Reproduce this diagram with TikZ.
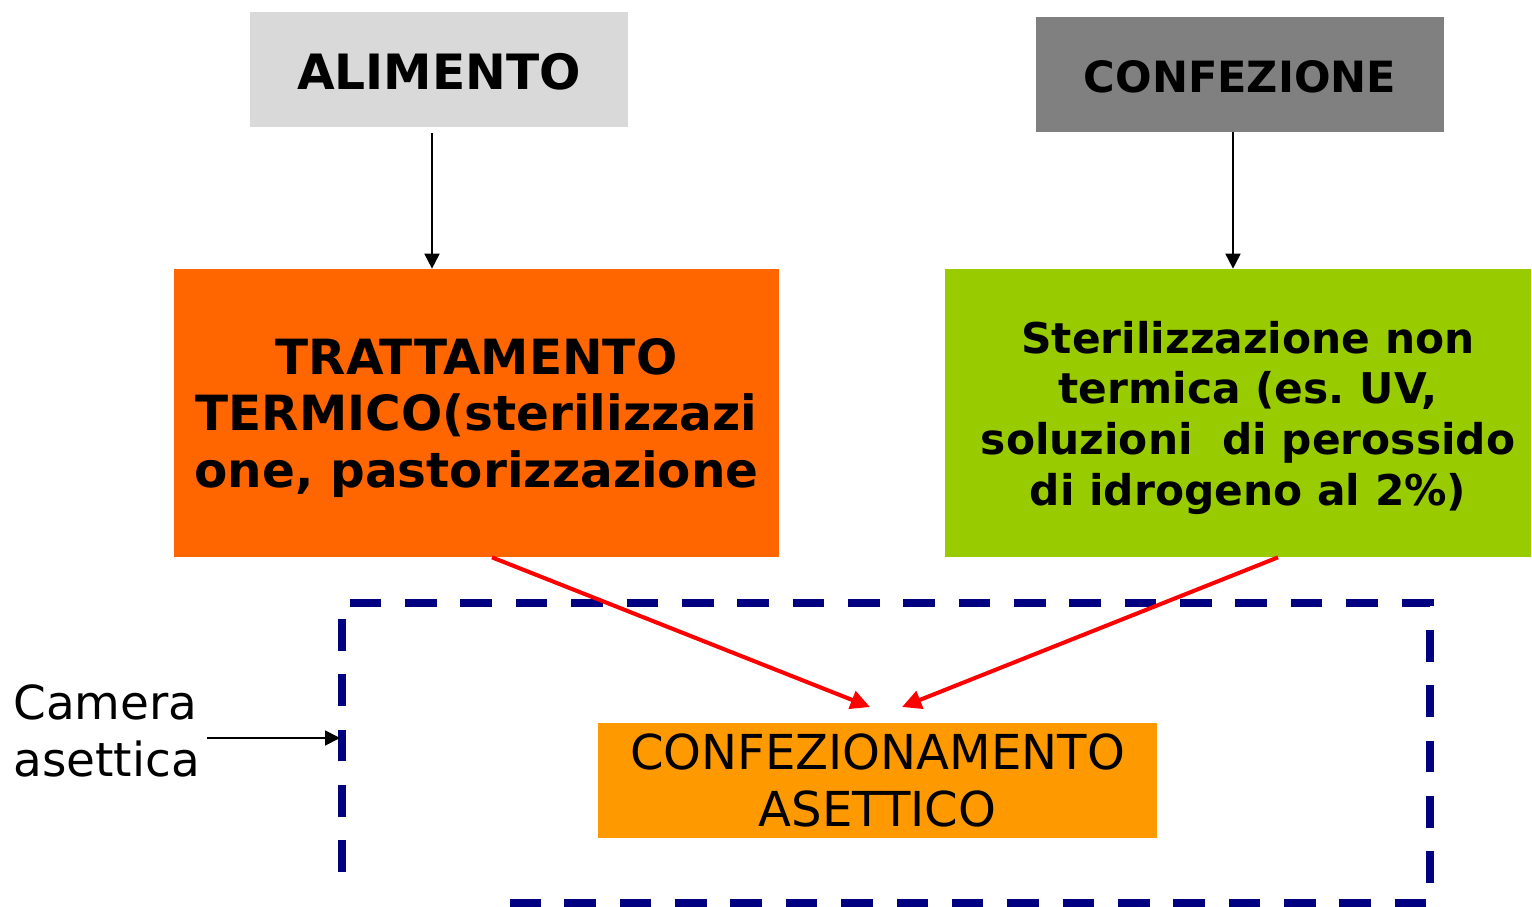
\documentclass[tikz,border=0pt]{standalone}
\usepackage{fontspec}
\setmainfont{DejaVu Sans}
\usepackage{tikz}
\usetikzlibrary{positioning,shapes,arrows.meta,calc}
\definecolor{lightgrey}{HTML}{D9D9D9}
\definecolor{midgrey}{HTML}{808080}
\definecolor{heatorange}{HTML}{FF6600}
\definecolor{uvgreen}{HTML}{99CC00}
\definecolor{packorange}{HTML}{FF9900}
\definecolor{cameranavy}{HTML}{000080}
\frenchspacing

\tikzset{
  topbox/.style={inner sep=0pt, minimum height=115*0.2mm},
  procbox/.style={inner sep=0pt, minimum height=288*0.2mm, align=center},
  blackarrow/.style={-{Triangle[length=8.5pt,width=8.5pt]}, line width=1.1pt},
  redarrow/.style={red, -{Triangle[length=11pt,width=10.5pt]}, line width=2.3pt},
}
\newcommand{\gshift}{\hspace*{4mm}}
\newcommand{\testogiu}[2]{\raisebox{-#1}[\height][\depth]{#2}}

\begin{document}
\begin{tikzpicture}[x=0.2mm, y=-0.2mm]
  \useasboundingbox (0,0) rectangle (1532,906);

  % boxes on top
  \node[topbox, fill=lightgrey, minimum width=378*0.2mm,
        font=\fontsize{27.7}{32}\bfseries\selectfont] (alimento) at (439,69.5)
    {\testogiu{1.1pt}{ALIMENTO}};
  \node[topbox, fill=midgrey, minimum width=408*0.2mm,
        font=\fontsize{24.5}{32}\bfseries\selectfont] (confezione) at (1240,74.5)
    {\testogiu{1.1pt}{CONFEZIONE}};

  % treatments
  \node[procbox, fill=heatorange, minimum width=605*0.2mm,
        font=\fontsize{27.6}{32.3}\bfseries\selectfont] (trattamento) at (476.5,413)
    {\testogiu{2.8pt}{\parbox{121mm}{\centering TRATTAMENTO\\TERMICO(sterilizzazi\\one, pastorizzazione}}};
  \node[procbox, fill=uvgreen, minimum width=586*0.2mm,
        font=\fontsize{24.1}{29}\bfseries\selectfont] (sterilizzazione) at (1238,413)
    {\testogiu{2.8pt}{\parbox{117.2mm}{\centering\gshift Sterilizzazione non\\\gshift termica (es. UV,\\\gshift soluzioni \ di perossido\\\gshift di idrogeno al 2\%)}}};

  % aseptic packaging
  \node[inner sep=0pt, fill=packorange, minimum width=559*0.2mm, minimum height=115*0.2mm,
        align=center, font=\fontsize{27.4}{32.3}\selectfont] (confezionamento) at (877.5,780.5)
    {CONFEZIONAMENTO\\ASETTICO};

  % aseptic room
  \draw[cameranavy, line width=4.3pt, dash pattern=on 18pt off 13.5pt]
    (342,872) -- (342,603) -- (1430,603) -- (1430,903) -- (510,903);
  \node[anchor=west, align=left, inner sep=0pt, font=\fontsize{26.7}{32.3}\selectfont] (camera) at (13,731)
    {Camera\\asettica};
  \coordinate (ingresso) at (340,738);

  % connectors
  \draw[blackarrow, shorten <=1.2mm] (alimento.south -| 432,0) -- (trattamento.north -| 432,0);
  \draw[blackarrow] (confezione.south -| 1233,0) -- (sterilizzazione.north -| 1233,0);
  \coordinate (puntaA) at (870,707);
  \coordinate (puntaB) at (902,707);
  \draw[redarrow] ($(trattamento.south)+(15.5,0)$) -- (puntaA);
  \draw[redarrow] ($(sterilizzazione.south)+(40,0)$) -- (puntaB);
  \draw[blackarrow] ($(camera.east |- ingresso)+(7,0)$) -- (ingresso);
\end{tikzpicture}
\end{document}
